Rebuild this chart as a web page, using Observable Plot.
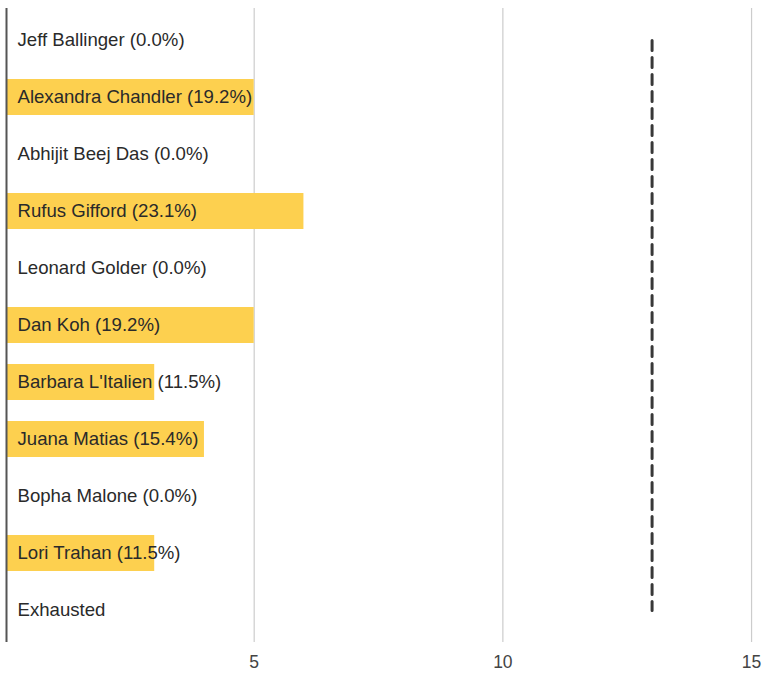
<!DOCTYPE html>
<html>
<head>
<meta charset="utf-8">
<script src="https://cdn.jsdelivr.net/npm/d3@7"></script>
<script src="https://cdn.jsdelivr.net/npm/@observablehq/plot@0.6"></script>
<style>
  html, body { margin: 0; padding: 0; background: #fff; }
  #chart svg { display: block; }
</style>
</head>
<body>
<div id="chart"></div>
<script>
const candidates = ["Jeff Ballinger", "Alexandra Chandler", "Abhijit Beej Das", "Rufus Gifford", "Leonard Golder", "Dan Koh", "Barbara L'Italien", "Juana Matias", "Bopha Malone", "Lori Trahan", "Exhausted"];
const votes = [0, 5, 0, 6, 0, 5, 3, 4, 0, 3, 0];
const pctLabels = ["0.0%", "19.2%", "0.0%", "23.1%", "0.0%", "19.2%", "11.5%", "15.4%", "0.0%", "11.5%", ""];
const threshold = 13;
const xTicks = [5, 10, 15];

const data = candidates.map((name, i) => ({
  name,
  votes: votes[i],
  label: pctLabels[i] ? `${name} (${pctLabels[i]})` : name
}));

const font = "Arial, 'Liberation Sans', sans-serif";

const chart = Plot.plot({
  width: 763,
  height: 675,
  marginTop: 9,
  marginBottom: 34,
  marginLeft: 5,
  marginRight: 2,
  style: { fontFamily: font, background: "#fff" },
  x: { domain: [0, 15.2], ticks: xTicks },
  y: { domain: candidates, paddingInner: 0.37, paddingOuter: 0.185, align: 0.5 },
  marks: [
    Plot.ruleX(xTicks, { stroke: "#cccccc", strokeWidth: 1.2, insetTop: -1, insetBottom: -1 }),
    Plot.barX(data, { x: "votes", y: "name", fill: "#fdd04f", insetLeft: 2 }),
    Plot.ruleX([0], { stroke: "#555", strokeWidth: 2, dx: 1, insetTop: -1, insetBottom: -1 }),
    Plot.text(data, { x: 0, y: "name", text: "label", textAnchor: "start", dx: 12, fontSize: 18.6, fill: "#2a2a2a", fontFamily: font }),
    Plot.line([{ x: threshold, y: candidates[0] }, { x: threshold, y: candidates[candidates.length - 1] }], {
      x: "x", y: "y", stroke: "#222", strokeWidth: 3, strokeDasharray: "10,7", strokeOpacity: 0.9
    }),
    Plot.axisX(xTicks, { tickSize: 0, tickPadding: 14, fontSize: 17.5, fill: "#444", fontFamily: font, label: null }),
    Plot.axisY({ ticks: [], tickSize: 0, label: null })
  ]
});
document.getElementById("chart").appendChild(chart);
</script>
</body>
</html>
